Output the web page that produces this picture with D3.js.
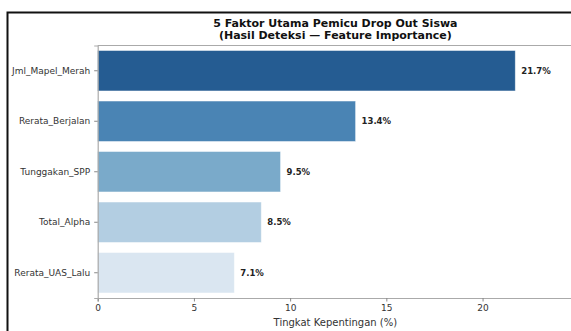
<!DOCTYPE html>
<html><head><meta charset="utf-8">
<script src="https://cdn.jsdelivr.net/npm/d3@7/dist/d3.min.js"></script>
<style>body{margin:0;background:#fff}svg{display:block}text{font-family:"DejaVu Sans",sans-serif}</style>
</head><body><svg id="c" width="571" height="331"></svg>
<script>
const categories = ["Jml_Mapel_Merah","Rerata_Berjalan","Tunggakan_SPP","Total_Alpha","Rerata_UAS_Lalu"];
const values = [21.7, 13.4, 9.5, 8.5, 7.1];
const colors = ["#255c92","#4a84b4","#7aaaca","#b3cee2","#dae6f1"];
const xTicks = [0,5,10,15,20];
const titleLines = ["5 Faktor Utama Pemicu Drop Out Siswa","(Hasil Deteksi \u2014 Feature Importance)"];
const xLabel = "Tingkat Kepentingan (%)";

const svg = d3.select("#c");
const L = 97.7, R = 573, T = 45.5, B = 298;
const x = d3.scaleLinear().domain([0, 24.7]).range([L, R]);
const y = d3.scaleBand().domain(categories).range([T, B]).paddingInner(0.2).paddingOuter(0.1);

// outer frame
svg.append("rect").attr("x",7.5).attr("y",12.5).attr("width",600).attr("height",400)
  .attr("fill","none").attr("stroke","#111").attr("stroke-width",2);

// bars
svg.selectAll("rect.bar").data(values).join("rect").attr("class","bar")
  .attr("x", x(0)).attr("y", (d,i)=>y(categories[i]))
  .attr("width", d=>x(d)-x(0)).attr("height", y.bandwidth())
  .attr("fill",(d,i)=>colors[i]).attr("stroke","#ffffff").attr("stroke-opacity",0.5).attr("stroke-width",0.8);

// value labels
svg.selectAll("text.val").data(values).join("text").attr("class","val")
  .attr("x", d=>x(d)+6).attr("y",(d,i)=>y(categories[i])+y.bandwidth()/2)
  .attr("dy","0.35em").attr("font-size",8.5).attr("font-weight","bold").attr("fill","#222")
  .text(d=>d.toFixed(1)+"%");

// axes
const gx = svg.append("g").attr("transform",`translate(0,${B})`)
  .call(d3.axisBottom(x).tickValues(xTicks).tickSize(3.5).tickPadding(3.5).tickFormat(d3.format("d")));
const gy = svg.append("g").attr("transform",`translate(${L},0)`)
  .call(d3.axisLeft(y).tickSize(3.5).tickPadding(4));
[gx,gy].forEach(g=>{
  g.select(".domain").attr("stroke","#aaa").attr("stroke-width",1.2);
  g.selectAll(".tick line").attr("stroke","#888");
  g.selectAll(".tick text").attr("font-size",9).attr("fill","#333").attr("font-family","DejaVu Sans, sans-serif");
});
// top spine
svg.append("line").attr("x1",L).attr("x2",R).attr("y1",T).attr("y2",T).attr("stroke","#aaa").attr("stroke-width",1.2);

// title
const cx = (L+R)/2;
svg.selectAll("text.title").data(titleLines).join("text").attr("class","title")
  .attr("x",cx).attr("y",(d,i)=>26.5+i*12.5).attr("text-anchor","middle")
  .attr("font-size",11).attr("font-weight","bold").attr("fill","#111").text(d=>d);

svg.append("text").attr("x",cx).attr("y",326).attr("text-anchor","middle")
  .attr("font-size",10).attr("fill","#333").text(xLabel);
</script></body></html>
